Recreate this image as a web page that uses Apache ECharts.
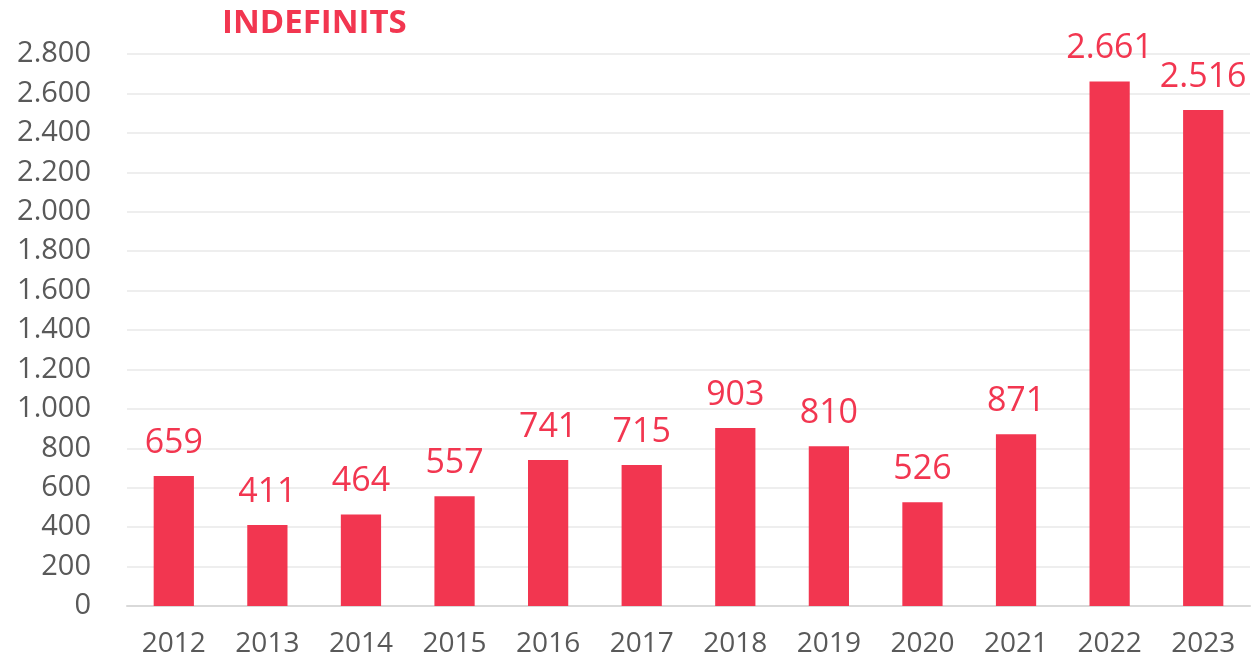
<!DOCTYPE html>
<html>
<head>
<meta charset="utf-8">
<script src="https://cdn.jsdelivr.net/npm/echarts@6/dist/echarts.min.js"></script>
<style>
  html, body { margin: 0; padding: 0; background: #fff; }
  #chart { width: 1258px; height: 663px; }
</style>
</head>
<body>
<div id="chart"></div>
<script>
var years = ['2012', '2013', '2014', '2015', '2016', '2017', '2018', '2019', '2020', '2021', '2022', '2023'];
var values = [659, 411, 464, 557, 741, 715, 903, 810, 526, 871, 2661, 2516];

// separador de milers amb punt
function fmt(n) {
    return String(n).replace(/\B(?=(\d{3})+(?!\d))/g, '.');
}

var chart = echarts.init(document.getElementById('chart'));
var option = {
    animation: false,
    title: {
        text: 'INDEFINITS',
        left: 217,
        top: 2,
        textStyle: {
            color: '#F23650',
            fontFamily: 'Open Sans',
            fontWeight: 'bold',
            fontSize: 33
        }
    },
    grid: {
        left: 127,
        right: 8,
        top: 54,
        bottom: 57
    },
    xAxis: {
        type: 'category',
        data: years,
        axisTick: { show: false },
        axisLine: { lineStyle: { color: '#d9d9d9', width: 2 } },
        axisLabel: {
            color: '#595959',
            fontFamily: 'Open Sans',
            fontSize: 28,
            margin: 24
        }
    },
    yAxis: {
        type: 'value',
        min: 0,
        max: 2800,
        interval: 200,
        axisLine: { show: false },
        axisTick: { show: false },
        splitLine: { lineStyle: { color: '#eeeeee', width: 2 } },
        axisLabel: {
            color: '#595959',
            fontFamily: 'Open Sans',
            fontSize: 29,
            margin: 36,
            formatter: fmt
        }
    },
    series: [{
        type: 'bar',
        data: values,
        barWidth: '43%',
        itemStyle: { color: '#F23650' },
        label: {
            show: true,
            position: 'top',
            distance: 16,
            color: '#F23650',
            fontFamily: 'Open Sans',
            fontSize: 34,
            formatter: function (p) { return fmt(p.value); }
        }
    }]
};
chart.setOption(option);
</script>
</body>
</html>
